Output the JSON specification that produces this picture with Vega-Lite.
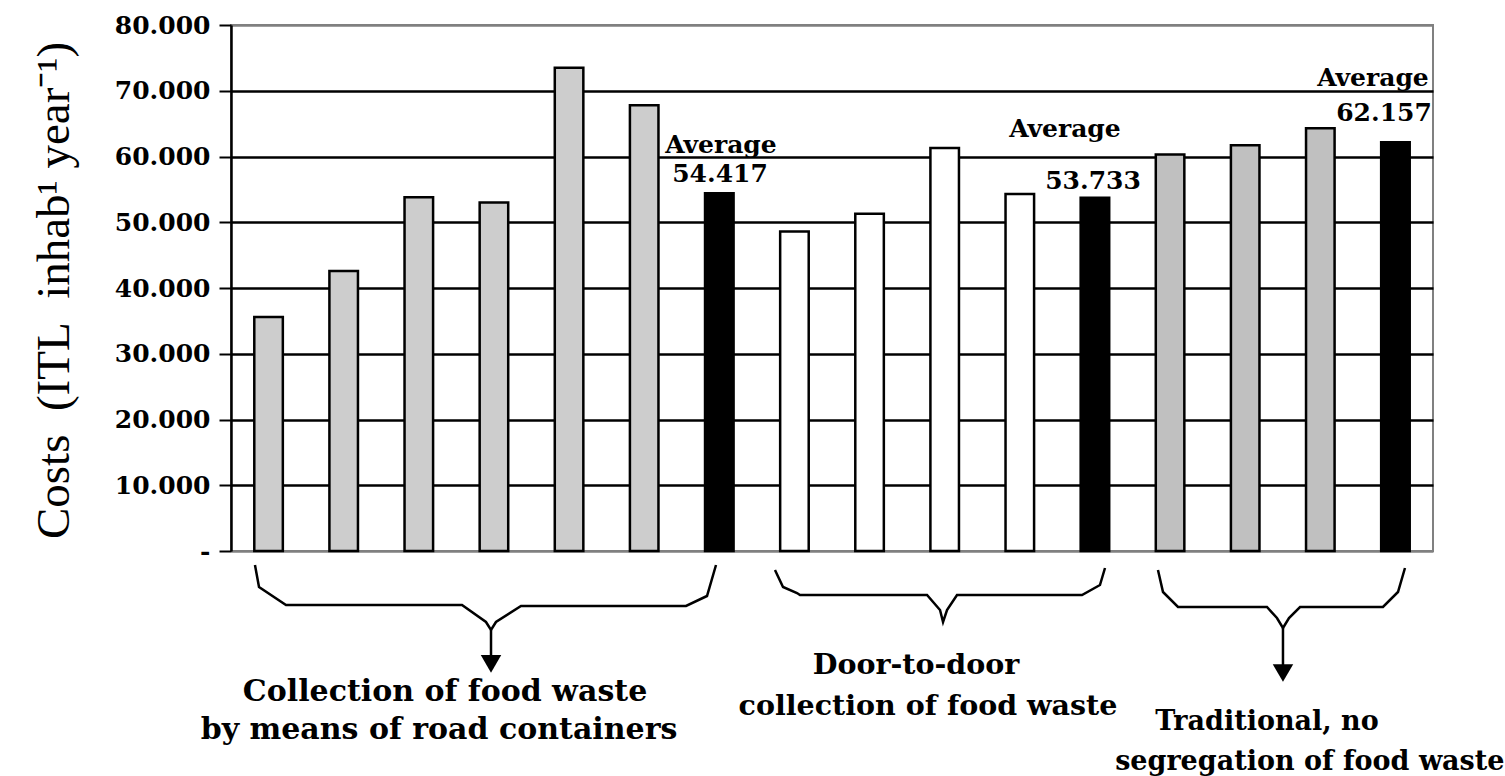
{
  "$schema": "https://vega.github.io/schema/vega-lite/v6.json",
  "width": 1202,
  "height": 526,
  "autosize": {"type": "none"},
  "padding": {"left": 231, "top": 25, "right": 72, "bottom": 225},
  "background": "white",
  "config": {"view": {"stroke": "#808080", "strokeWidth": 2}, "font": "DejaVu Serif"},
  "datasets": {
    "bars": [
      {"bar": "r1", "kind": "Road containers", "cost": 35600},
      {"bar": "r2", "kind": "Road containers", "cost": 42600},
      {"bar": "r3", "kind": "Road containers", "cost": 53800},
      {"bar": "r4", "kind": "Road containers", "cost": 53000},
      {"bar": "r5", "kind": "Road containers", "cost": 73500},
      {"bar": "r6", "kind": "Road containers", "cost": 67800},
      {"bar": "rAvg", "kind": "Average", "cost": 54417},
      {"bar": "d1", "kind": "Door-to-door", "cost": 48600},
      {"bar": "d2", "kind": "Door-to-door", "cost": 51300},
      {"bar": "d3", "kind": "Door-to-door", "cost": 61300},
      {"bar": "d4", "kind": "Door-to-door", "cost": 54300},
      {"bar": "dAvg", "kind": "Average", "cost": 53733},
      {"bar": "t1", "kind": "Traditional", "cost": 60300},
      {"bar": "t2", "kind": "Traditional", "cost": 61700},
      {"bar": "t3", "kind": "Traditional", "cost": 64300},
      {"bar": "tAvg", "kind": "Average", "cost": 62157}
    ],
    "braces": [
      {"brace": "road", "seq": 1, "bx": 0.319, "by": -2129},
      {"brace": "road", "seq": 2, "bx": 0.373, "by": -5475},
      {"brace": "road", "seq": 3, "bx": 0.732, "by": -8213},
      {"brace": "road", "seq": 4, "bx": 3.075, "by": -8213},
      {"brace": "road", "seq": 5, "bx": 3.394, "by": -10798},
      {"brace": "road", "seq": 6, "bx": 3.461, "by": -12015},
      {"brace": "road", "seq": 7, "bx": 3.527, "by": -10798},
      {"brace": "road", "seq": 8, "bx": 3.860, "by": -8365},
      {"brace": "road", "seq": 9, "bx": 6.057, "by": -8365},
      {"brace": "road", "seq": 10, "bx": 6.336, "by": -6844},
      {"brace": "road", "seq": 11, "bx": 6.456, "by": -2129},
      {"brace": "door", "seq": 1, "bx": 7.241, "by": -2890},
      {"brace": "door", "seq": 2, "bx": 7.348, "by": -5475},
      {"brace": "door", "seq": 3, "bx": 7.534, "by": -6388},
      {"brace": "door", "seq": 4, "bx": 7.574, "by": -6692},
      {"brace": "door", "seq": 5, "bx": 9.265, "by": -6692},
      {"brace": "door", "seq": 6, "bx": 9.438, "by": -8973},
      {"brace": "door", "seq": 7, "bx": 9.478, "by": -10798},
      {"brace": "door", "seq": 8, "bx": 9.531, "by": -8973},
      {"brace": "door", "seq": 9, "bx": 9.664, "by": -6692},
      {"brace": "door", "seq": 10, "bx": 11.328, "by": -6692},
      {"brace": "door", "seq": 11, "bx": 11.567, "by": -5171},
      {"brace": "door", "seq": 12, "bx": 11.634, "by": -2585},
      {"brace": "trad", "seq": 1, "bx": 12.339, "by": -2890},
      {"brace": "trad", "seq": 2, "bx": 12.406, "by": -6236},
      {"brace": "trad", "seq": 3, "bx": 12.606, "by": -8517},
      {"brace": "trad", "seq": 4, "bx": 13.790, "by": -8517},
      {"brace": "trad", "seq": 5, "bx": 13.923, "by": -10190},
      {"brace": "trad", "seq": 6, "bx": 14.003, "by": -11711},
      {"brace": "trad", "seq": 7, "bx": 14.083, "by": -10190},
      {"brace": "trad", "seq": 8, "bx": 14.230, "by": -8517},
      {"brace": "trad", "seq": 9, "bx": 15.334, "by": -8517},
      {"brace": "trad", "seq": 10, "bx": 15.534, "by": -6236},
      {"brace": "trad", "seq": 11, "bx": 15.627, "by": -2585}
    ],
    "stems": [
      {"brace": "road", "bx": 3.461, "top": -12015, "bottom": -15970},
      {"brace": "trad", "bx": 14.003, "top": -11711, "bottom": -17490}
    ],
    "heads": [
      {"brace": "road", "bx": 3.461, "by": -17186},
      {"brace": "trad", "bx": 14.003, "by": -18555}
    ],
    "notes": [
      {"bx": 6.522, "by": 60532, "text": "Average"},
      {"bx": 6.509, "by": 56121, "text": "54.417"},
      {"bx": 11.101, "by": 62965, "text": "Average"},
      {"bx": 11.474, "by": 55057, "text": "53.733"},
      {"bx": 15.201, "by": 70722, "text": "Average"},
      {"bx": 15.348, "by": 65399, "text": "62.157"}
    ],
    "groups": [
      {"group": "road", "bx": 2.849, "by": -21445, "text": "Collection of food waste"},
      {"group": "road", "bx": 2.769, "by": -27224, "text": "by means of road containers"},
      {"group": "door", "bx": 9.118, "by": -17338, "text": "Door-to-door"},
      {"group": "door", "bx": 9.278, "by": -23574, "text": "collection of food waste"},
      {"group": "trad", "bx": 13.790, "by": -26007, "text": "Traditional, no"},
      {"group": "trad", "bx": 14.36, "by": -32091, "text": "segregation of food waste"}
    ]
  },
  "layer": [
    {
      "data": {"name": "bars"},
      "mark": {"type": "bar", "stroke": "black", "strokeWidth": 2.5},
      "encoding": {
        "x": {"field": "bar", "type": "nominal", "sort": null, "scale": {"paddingInner": 0.62, "paddingOuter": 0.31}, "axis": null},
        "y": {
          "field": "cost", "type": "quantitative",
          "scale": {"domain": [0, 80000], "nice": false},
          "axis": {
            "values": [0, 10000, 20000, 30000, 40000, 50000, 60000, 70000, 80000],
            "labelExpr": "datum.value == 0 ? '-' : replace(format(datum.value, ','), ',', '.')",
            "labelFont": "DejaVu Serif", "labelFontWeight": "bold", "labelFontSize": 25, "labelColor": "black",
            "labelPadding": 9,
            "tickSize": 12, "tickColor": "black", "tickWidth": 2,
            "domainColor": "black", "domainWidth": 2.5,
            "grid": true,
            "gridColor": {"condition": {"test": "datum.value == 0 || datum.value == 80000", "value": "#808080"}, "value": "black"},
            "gridWidth": 2.5, "gridOpacity": 1,
            "title": "Costs\u00a0\u00a0(ITL\u00a0\u00a0inhab¹ year⁻¹)",
            "titleFont": "Liberation Serif", "titleFontSize": 47, "titleFontWeight": "normal", "titleColor": "black",
            "titleAngle": -90, "titleX": -163, "titleY": 265, "titleAlign": "center", "titleBaseline": "alphabetic"
          }
        },
        "fill": {
          "field": "kind", "type": "nominal",
          "scale": {"domain": ["Road containers", "Door-to-door", "Traditional", "Average"], "range": ["#cdcdcd", "#ffffff", "#c0c0c0", "#000000"]},
          "legend": null
        }
      }
    },
    {
      "layer": [
        {
          "data": {"name": "braces"},
          "mark": {"type": "line", "color": "black", "strokeWidth": 2.5, "clip": false},
          "encoding": {
            "x": {"field": "bx", "type": "quantitative", "scale": {"domain": [0, 16], "nice": false, "zero": false}, "axis": null},
            "y": {"field": "by", "type": "quantitative", "scale": {"domain": [0, 80000], "nice": false}},
            "detail": {"field": "brace"},
            "order": {"field": "seq"}
          }
        },
        {
          "data": {"name": "stems"},
          "mark": {"type": "rule", "color": "black", "strokeWidth": 2.5},
          "encoding": {
            "x": {"field": "bx", "type": "quantitative", "scale": {"domain": [0, 16], "nice": false, "zero": false}, "axis": null},
            "y": {"field": "top", "type": "quantitative", "scale": {"domain": [0, 80000], "nice": false}},
            "y2": {"field": "bottom"}
          }
        },
        {
          "data": {"name": "heads"},
          "mark": {"type": "point", "shape": "triangle-down", "filled": true, "color": "black", "size": 420, "opacity": 1},
          "encoding": {
            "x": {"field": "bx", "type": "quantitative", "scale": {"domain": [0, 16], "nice": false, "zero": false}, "axis": null},
            "y": {"field": "by", "type": "quantitative", "scale": {"domain": [0, 80000], "nice": false}}
          }
        },
        {
          "data": {"name": "notes"},
          "mark": {"type": "text", "font": "DejaVu Serif", "fontWeight": "bold", "fontSize": 25, "color": "black", "align": "center", "baseline": "alphabetic"},
          "encoding": {
            "x": {"field": "bx", "type": "quantitative", "scale": {"domain": [0, 16], "nice": false, "zero": false}, "axis": null},
            "y": {"field": "by", "type": "quantitative", "scale": {"domain": [0, 80000], "nice": false}},
            "text": {"field": "text"}
          }
        },
        {
          "data": {"name": "groups"},
          "mark": {"type": "text", "font": "DejaVu Serif", "fontWeight": "bold", "color": "black", "align": "center", "baseline": "middle"},
          "encoding": {
            "x": {"field": "bx", "type": "quantitative", "scale": {"domain": [0, 16], "nice": false, "zero": false}, "axis": null},
            "y": {"field": "by", "type": "quantitative", "scale": {"domain": [0, 80000], "nice": false}},
            "text": {"field": "text"},
            "size": {"field": "group", "type": "nominal", "scale": {"domain": ["road", "door", "trad"], "range": [30, 27, 26]}, "legend": null}
          }
        }
      ]
    }
  ],
  "resolve": {"scale": {"x": "independent"}}
}
